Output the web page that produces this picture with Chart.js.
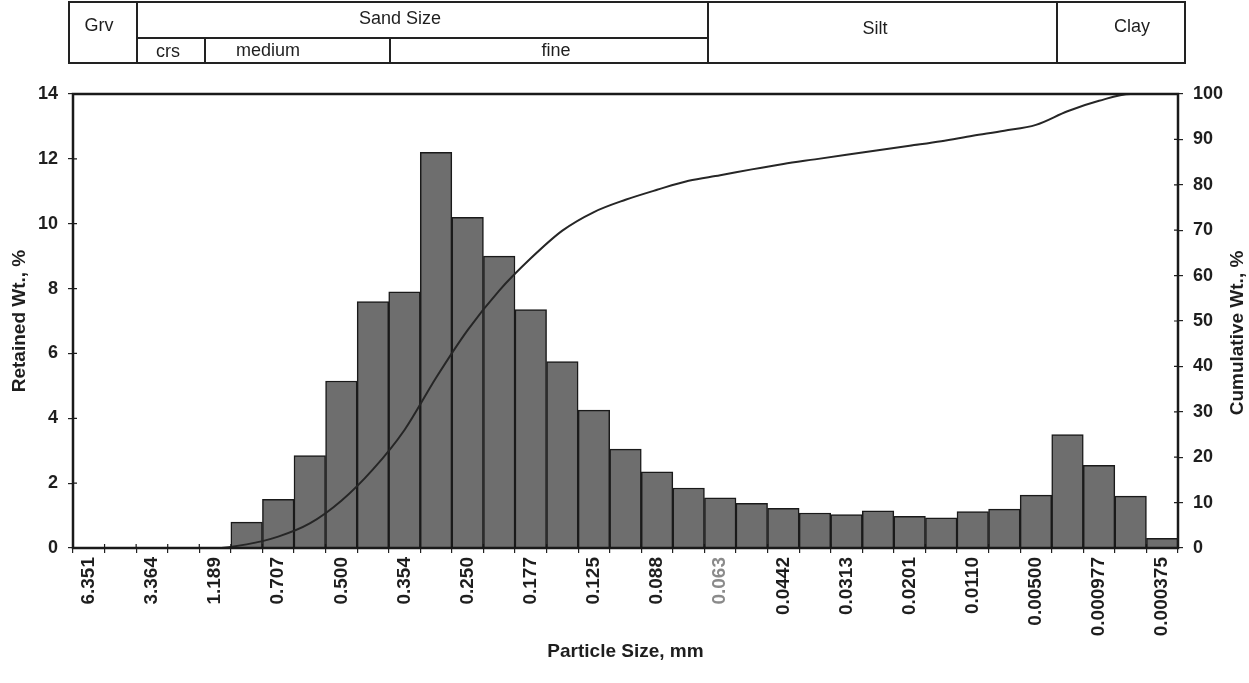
<!DOCTYPE html>
<html>
<head>
<meta charset="utf-8">
<script src="https://cdn.jsdelivr.net/npm/chart.js@4"></script>
<style>
  body { margin: 0; background: #fff; }
  #wrap { position: relative; width: 1249px; height: 683px; }
  #myChart { position: absolute; left: 0; top: 0; }
  .ln { position: absolute; background: #222; }
  .lbl { position: absolute; font: 18px "Liberation Sans", Arial, sans-serif; color: #1e1e1e;
         transform: translate(-50%, -50%); white-space: nowrap; }
</style>
</head>
<body>
<div id="wrap">
  <canvas id="myChart" width="1249" height="683"></canvas>
  <!-- size class header -->
  <div class="ln" style="left:68px;top:1px;width:1118px;height:2px"></div>
  <div class="ln" style="left:68px;top:62px;width:1118px;height:2px"></div>
  <div class="ln" style="left:68px;top:1px;width:2px;height:63px"></div>
  <div class="ln" style="left:1184px;top:1px;width:2px;height:63px"></div>
  <div class="ln" style="left:136px;top:1px;width:2px;height:63px"></div>
  <div class="ln" style="left:707px;top:1px;width:2px;height:63px"></div>
  <div class="ln" style="left:1056px;top:1px;width:2px;height:63px"></div>
  <div class="ln" style="left:136px;top:37px;width:572px;height:2px"></div>
  <div class="ln" style="left:204px;top:37px;width:2px;height:26px"></div>
  <div class="ln" style="left:389px;top:37px;width:2px;height:26px"></div>
  <div class="lbl" style="left:99px;top:25px">Grv</div>
  <div class="lbl" style="left:400px;top:18px">Sand Size</div>
  <div class="lbl" style="left:168px;top:51px">crs</div>
  <div class="lbl" style="left:268px;top:50px">medium</div>
  <div class="lbl" style="left:556px;top:50px">fine</div>
  <div class="lbl" style="left:875px;top:28px">Silt</div>
  <div class="lbl" style="left:1132px;top:26px">Clay</div>
</div>
<script>
// sieve sizes shown on the axis (every other bin)
const tickLabels = ['6.351', '3.364', '1.189', '0.707', '0.500', '0.354', '0.250', '0.177', '0.125',
    '0.088', '0.063', '0.0442', '0.0313', '0.0201', '0.0110', '0.00500', '0.000977', '0.000375'];

// retained weight per bin, %
const retained = [0, 0, 0, 0, 0, 0.8, 1.5, 2.85, 5.15, 7.6, 7.9, 12.2, 10.2, 9.0, 7.35, 5.75,
    4.25, 3.05, 2.35, 1.85, 1.55, 1.38, 1.22, 1.08, 1.03, 1.15, 0.98, 0.93, 1.12, 1.2, 1.63,
    3.5, 2.55, 1.6, 0.3];

// cumulative weight, %
const cumulative = [0, 0, 0, 0, 0, 0.8, 2.5, 5.4, 10.4, 17.3, 26, 37.5, 48, 56.7, 63.8, 69.9,
    74, 76.7, 78.9, 80.9, 82.1, 83.4, 84.6, 85.6, 86.6, 87.6, 88.6, 89.6, 90.8, 91.9, 93.2,
    96.2, 98.5, 100, 100];

const bins = tickLabels.flatMap((t, i) => i < tickLabels.length - 1 ? [t, ''] : [t]);

Chart.defaults.font.family = '"Liberation Sans", Arial, sans-serif';
Chart.defaults.color = '#1e1e1e';

const frame = {
    id: 'frame',
    afterDatasetsDraw(chart) {
        const {ctx, chartArea: a, scales: {x, y, y1}} = chart;
        ctx.save();
        ctx.strokeStyle = '#1a1a1a';
        ctx.lineWidth = 2.5;
        ctx.strokeRect(a.left, a.top, a.right - a.left, a.bottom - a.top);

        // small ticks on the inside of the axes
        ctx.lineWidth = 1.2;
        ctx.beginPath();
        const half = (x.getPixelForValue(1) - x.getPixelForValue(0)) / 2;
        for (let i = 0; i <= bins.length; i++) {
            const px = x.getPixelForValue(i) - half;
            ctx.moveTo(px, a.bottom);
            ctx.lineTo(px, a.bottom - 4);
        }
        for (let v = 0; v <= 14; v += 2) {
            const py = y.getPixelForValue(v);
            ctx.moveTo(a.left, py);
            ctx.lineTo(a.left + 4, py);
        }
        for (let v = 0; v <= 100; v += 10) {
            const py = y1.getPixelForValue(v);
            ctx.moveTo(a.right, py);
            ctx.lineTo(a.right - 4, py);
        }
        ctx.stroke();

        // right axis title reads bottom to top
        ctx.translate(1238, (a.top + a.bottom) / 2 + 12);
        ctx.rotate(-Math.PI / 2);
        ctx.font = 'bold 19px "Liberation Sans", Arial, sans-serif';
        ctx.fillStyle = '#1e1e1e';
        ctx.textAlign = 'center';
        ctx.textBaseline = 'middle';
        ctx.fillText('Cumulative Wt., %', 0, 0);
        ctx.restore();
    }
};

let ctx = document.querySelector('#myChart').getContext('2d');
let myChart = new Chart(ctx, {
    type: 'bar',
    data: {
        labels: bins,
        datasets: [{
            type: 'line',
            label: 'Cumulative',
            data: cumulative,
            yAxisID: 'y1',
            borderColor: '#262626',
            borderWidth: 2,
            pointRadius: 0,
            cubicInterpolationMode: 'monotone',
            order: 0
        }, {
            label: 'Retained',
            data: retained,
            yAxisID: 'y',
            backgroundColor: '#6e6e6e',
            borderColor: '#1a1a1a',
            borderWidth: 1.5,
            categoryPercentage: 1,
            barPercentage: 1,
            order: 1
        }]
    },
    options: {
        responsive: false,
        animation: false,
        layout: { padding: { top: 94, left: 0, right: 0, bottom: 0 } },
        plugins: {
            legend: { display: false },
            tooltip: { enabled: false }
        },
        scales: {
            x: {
                afterFit(s) { s.height = 135; },
                border: { display: false },
                grid: { drawOnChartArea: false, tickLength: 5, color: '#222', lineWidth: 1.2 },
                ticks: {
                    autoSkip: false, minRotation: 90, maxRotation: 90, padding: 4,
                    font: { size: 19, weight: 'bold' },
                    color: c => c.index === 20 ? '#8a8a8a' : '#1e1e1e'
                },
                title: {
                    display: true, text: 'Particle Size, mm',
                    font: { size: 19, weight: 'bold' },
                    padding: { top: 0, bottom: 20 }
                }
            },
            y: {
                position: 'left',
                min: 0, max: 14,
                afterFit(s) { s.width = 73; },
                border: { display: false },
                grid: { drawOnChartArea: false, tickLength: 5, color: '#222', lineWidth: 1.2 },
                ticks: { stepSize: 2, padding: 10, font: { size: 18, weight: 'bold' } },
                title: {
                    display: true, text: 'Retained Wt., %',
                    font: { size: 19, weight: 'bold' },
                    padding: { top: 8, bottom: 0 }
                }
            },
            y1: {
                position: 'right',
                min: 0, max: 100,
                afterFit(s) { s.width = 71; },
                border: { display: false },
                grid: { drawOnChartArea: false, tickLength: 5, color: '#222', lineWidth: 1.2 },
                ticks: { stepSize: 10, padding: 10, font: { size: 18, weight: 'bold' } }
            }
        }
    },
    plugins: [frame]
});
</script>
</body>
</html>
